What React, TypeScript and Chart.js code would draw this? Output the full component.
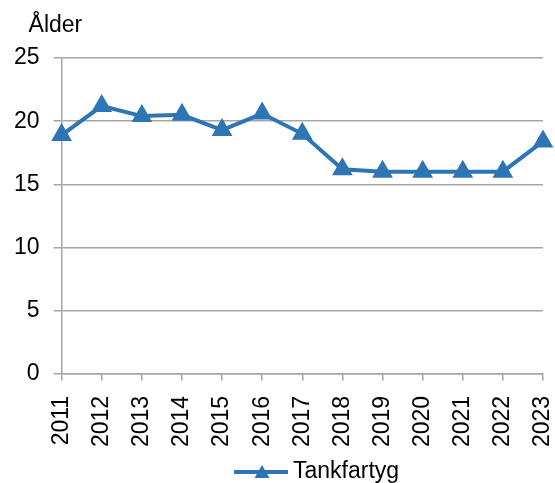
import React, { useEffect, useRef } from "react";
import { Chart, registerables } from "chart.js";

Chart.register(...registerables);

const years = ["2011","2012","2013","2014","2015","2016","2017","2018","2019","2020","2021","2022","2023"];
const tankfartyg = [18.9, 21.2, 20.4, 20.5, 19.3, 20.6, 19.0, 16.2, 16.0, 16.0, 16.0, 16.0, 18.4];
const seriesName = "Tankfartyg";
const axisTitle = "Ålder";

const BLUE = "#2e75b6";
const GRID = "#a6a6a6";
const FONT = "'Liberation Sans', Arial, sans-serif";
const FS = 23;

const extras = {
  id: "extras",
  afterDraw(chart: any) {
    const ctx = chart.ctx;
    const a = chart.chartArea;
    ctx.save();
    ctx.fillStyle = "#000";
    ctx.font = `${FS}px ${FONT}`;
    ctx.textBaseline = "alphabetic";
    ctx.textAlign = "left";
    ctx.fillText(axisTitle, a.left - 33, a.top - 26);
    // legend
    const y = chart.height - 11;
    const x0 = 234;
    ctx.strokeStyle = BLUE;
    ctx.lineWidth = 4;
    ctx.beginPath();
    ctx.moveTo(x0, y);
    ctx.lineTo(x0 + 54, y);
    ctx.stroke();
    const cx = x0 + 28;
    ctx.fillStyle = BLUE;
    ctx.beginPath();
    ctx.moveTo(cx, y - 7);
    ctx.lineTo(cx + 7.5, y + 6);
    ctx.lineTo(cx - 7.5, y + 6);
    ctx.closePath();
    ctx.fill();
    ctx.fillStyle = "#000";
    ctx.textBaseline = "middle";
    ctx.fillText(seriesName, x0 + 59, y);
    ctx.restore();
  },
};

export default function App() {
  const ref = useRef<HTMLCanvasElement>(null);
  useEffect(() => {
    const chart = new Chart(ref.current!, {
      type: "line",
      data: {
        labels: years,
        datasets: [
          {
            label: seriesName,
            data: tankfartyg,
            borderColor: BLUE,
            backgroundColor: BLUE,
            borderWidth: 4,
            pointStyle: "triangle",
            pointRadius: 8,
            pointHoverRadius: 8,
            tension: 0,
          },
        ],
      },
      options: {
        responsive: false,
        animation: false,
        layout: { padding: { top: 58, right: 0, bottom: 21, left: 0 } },
        plugins: { legend: { display: false }, tooltip: { enabled: false } },
        scales: {
          x: {
            offset: false,
            afterFit: (scale: any) => {
              scale.paddingRight = 12;
            },
            grid: { display: true, drawOnChartArea: false, drawTicks: true, tickLength: 7, color: GRID, lineWidth: 1.5 },
            border: { display: true, color: GRID, width: 1.5 },
            ticks: { color: "#000", font: { family: FONT, size: FS }, maxRotation: 90, minRotation: 90, padding: 15, autoSkip: false },
          },
          y: {
            min: 0,
            max: 25,
            grid: { color: GRID, lineWidth: 1.5, tickLength: 8 },
            border: { display: true, color: GRID, width: 1.5 },
            ticks: { stepSize: 5, color: "#000", font: { family: FONT, size: FS }, padding: 14 },
          },
        },
      },
      plugins: [extras],
    });
    return () => chart.destroy();
  }, []);
  return (
    <div style={{ position: "fixed", left: 0, top: 0, width: 555, height: 483, background: "#fff" }}>
      <canvas ref={ref} width={555} height={483} />
    </div>
  );
}
